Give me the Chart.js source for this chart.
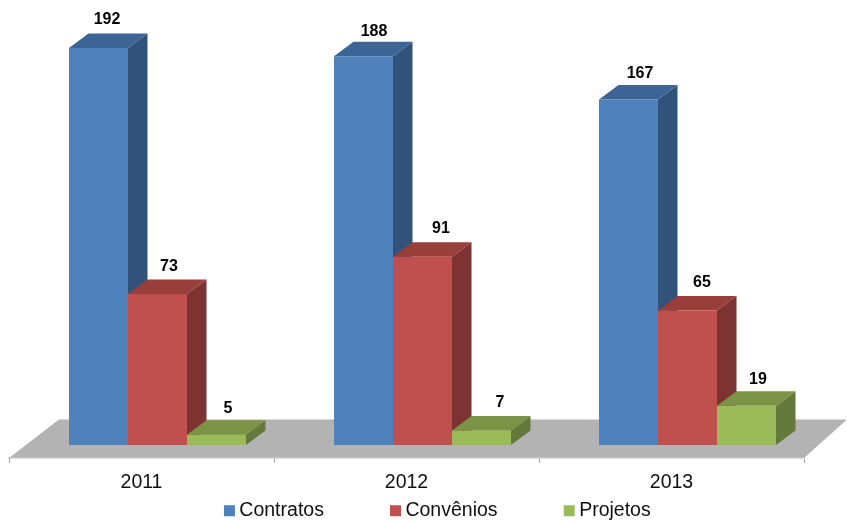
<!DOCTYPE html>
<html><head><meta charset="utf-8">
<style>html,body{margin:0;padding:0;background:#fff}canvas{display:block}</style>
<script src="https://cdn.jsdelivr.net/npm/chart.js@4"></script>
</head><body>
<canvas id="c" width="847" height="522"></canvas>
<script>
const categories = ['2011', '2012', '2013'];
const contratos = [192, 188, 167];
const convenios = [73, 91, 65];
const projetos = [5, 7, 19];

const FONT = '"Liberation Sans", Arial, sans-serif';
const FRONT = ['#4f81bd', '#c0504d', '#9bbb59'];
const TOP = ['#3c6494', '#983e3b', '#7a9347'];
const SIDE = ['#31527b', '#7c3332', '#637a3a'];
const SHIFT = {x: 16, y: -13};
const DEPTH = {x: 19.5, y: 14.5};
const LABEL_NUDGE_X = [[-3, -1, 0], [0, 7, 3], [0, 7, 0]]; // per dataset, per category
const LABEL_NUDGE_Y = [[0, 3, 2], [1, 0, 0], [2, 0, 2]];

function poly(ctx, pts, fill) {
  ctx.beginPath();
  pts.forEach((p, i) => i ? ctx.lineTo(p[0], p[1]) : ctx.moveTo(p[0], p[1]));
  ctx.closePath();
  ctx.fillStyle = fill;
  ctx.fill();
}

const threeD = {
  id: 'threeD',
  afterLayout(chart) {
    const lg = chart.legend;
    const pad = lg.options.labels.padding;
    lg.left = 229.3 - pad;
    lg.right = lg.left + 700;
    lg.top = 501 - pad;
  },
  beforeDraw(chart) {
    const {ctx, scales: {x, y}} = chart;
    const b = y.getPixelForValue(0);
    poly(ctx, [[x.left, b], [x.right, b], [x.right + 43, b - 38.5], [x.left + 50, b - 38.5]], '#b3b3b3');
  },
  beforeDatasetsDraw(chart) {
    const ctx = chart.ctx;
    ctx.save();
    ctx.translate(SHIFT.x, SHIFT.y);
    chart.data.datasets.forEach((ds, i) => {
      chart.getDatasetMeta(i).data.forEach(bar => {
        const l = bar.x - bar.width / 2, r = bar.x + bar.width / 2, t = bar.y, bt = bar.base;
        poly(ctx, [[r, t], [r + DEPTH.x, t - DEPTH.y], [r + DEPTH.x, bt - DEPTH.y], [r, bt]], SIDE[i]);
        poly(ctx, [[l, t], [l + DEPTH.x, t - DEPTH.y], [r + DEPTH.x, t - DEPTH.y], [r, t]], TOP[i]);
      });
    });
  },
  afterDatasetsDraw(chart) {
    const ctx = chart.ctx;
    ctx.restore();
    ctx.save();
    ctx.font = 'bold 16px ' + FONT;
    ctx.fillStyle = '#000';
    ctx.textAlign = 'center';
    ctx.textBaseline = 'middle';
    chart.data.datasets.forEach((ds, i) => {
      chart.getDatasetMeta(i).data.forEach((bar, j) => {
        ctx.fillText(String(ds.data[j]),
          bar.x + SHIFT.x + 11.5 + LABEL_NUDGE_X[i][j],
          bar.y + SHIFT.y - 28 + LABEL_NUDGE_Y[i][j]);
      });
    });
    ctx.restore();
  }
};

new Chart(document.getElementById('c'), {
  type: 'bar',
  data: {
    labels: categories,
    datasets: [
      {label: 'Contratos', data: contratos, backgroundColor: FRONT[0]},
      {label: 'Convênios', data: convenios, backgroundColor: FRONT[1]},
      {label: 'Projetos', data: projetos, backgroundColor: FRONT[2]}
    ]
  },
  options: {
    responsive: false,
    animation: false,
    layout: {padding: {left: 9, right: 43, top: 3, bottom: 0}},
    datasets: {bar: {categoryPercentage: 177 / 265, barPercentage: 1, borderWidth: 0}},
    scales: {
      x: {
        grid: {drawOnChartArea: false, color: '#a6a6a6', tickLength: 5, tickColor: '#a6a6a6'},
        border: {color: '#bfbfbf', width: 1.5},
        ticks: {color: '#111', padding: 7.5, font: {family: FONT, size: 19.5}, maxRotation: 0},
        afterFit(s) { s.height = 34; }
      },
      y: {display: false, min: 0, max: 220}
    },
    plugins: {
      tooltip: {enabled: false},
      legend: {
        position: 'bottom',
        align: 'start',
        maxHeight: 30,
        labels: {
          usePointStyle: true, pointStyle: 'rect', boxWidth: 0.3, boxHeight: 11,
          padding: 71.5, color: '#111', font: {family: FONT, size: 19.5}
        }
      }
    }
  },
  plugins: [threeD]
});
</script>
</body></html>
